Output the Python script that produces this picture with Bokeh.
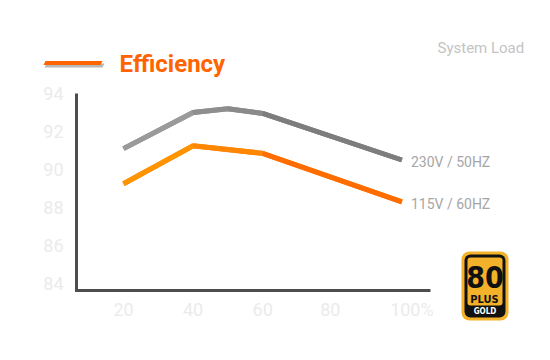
from bokeh.plotting import figure
from bokeh.models import Range1d, ColumnDataSource
from bokeh.core.properties import value
from bokeh.embed import file_html
from bokeh.resources import INLINE

# ---- data ----
load_230 = [20, 40, 50, 60, 100]
eff_230 = [91.1, 93.0, 93.2, 92.95, 90.5]
load_115 = [20, 40, 60, 100]
eff_115 = [89.25, 91.25, 90.85, 88.3]
x_ticks = [20, 40, 60, 80, 100]
x_tick_labels = ["20", "40", "60", "80", "100%"]
y_ticks = [84, 86, 88, 90, 92, 94]
y_tick_labels = ["84", "86", "88", "90", "92", "94"]
series_labels = ["230V / 50HZ", "115V / 60HZ"]
title_text = "Efficiency"
axis_title = "System Load"

# ---- layout calibration (page pixel -> data) ----
PX20, SX = 123.0, 3.48     # page x of load=20, px per unit
PY84, SY = 283.0, 19.0     # page y of eff=84, px per unit
OX, OY = 0, 0              # page offset of the canvas
def px(X):
    return 20 + (X - PX20) / SX
def py(Y):
    return 84 + (PY84 - Y) / SY

W, H = 530, 340
p = figure(width=W, height=H, output_backend="svg", toolbar_location=None,
           x_range=Range1d(px(OX), px(OX + W)), y_range=Range1d(py(OY + H), py(OY)),
           x_axis_location=None, y_axis_location=None,
           min_border=0, min_border_left=0, min_border_right=0,
           min_border_top=0, min_border_bottom=0)
p.outline_line_color = None
p.xgrid.visible = False
p.ygrid.visible = False
p.background_fill_color = "white"
p.border_fill_color = "white"

# ---- axes (drawn on the chart's scales) ----
x_ax_end = px(430)
y_ax_bottom = py(290)
p.line([px(76), px(76), x_ax_end], [max(y_ticks), y_ax_bottom, y_ax_bottom],
       line_color="#4d4d4d", line_width=3, line_join="miter")

p.text(x=[px(63)] * len(y_ticks), y=y_ticks, text=y_tick_labels,
       text_align="right", text_baseline="middle",
       text_font=value("Roboto"), text_font_size="18px", text_color="#ebebeb")

xs = ColumnDataSource(dict(x=x_ticks, y=[py(309)] * len(x_ticks), text=x_tick_labels,
                           xo=[0, 0, 0, -2, 10]))
p.text(x="x", y="y", text="text", x_offset="xo", source=xs,
       text_align="center", text_baseline="middle",
       text_font=value("Roboto"), text_font_size="18px", text_color="#ebebeb")

# ---- series lines (gradient approximated per segment) ----
def grad_line(xv, yv, base, seg_colors):
    p.line(xv, yv, line_color=base, line_width=5, line_join="miter")
    p.segment(x0=xv[:-1], y0=yv[:-1], x1=xv[1:], y1=yv[1:],
              line_color=seg_colors, line_width=5, line_cap="butt")

grad_line(load_230, eff_230, "#8c8c8c", ["#9a9a9a", "#8e8e8e", "#8a8a8a", "#7d7d7d"])
grad_line(load_115, eff_115, "#ff8400", ["#ff9300", "#ff8600", "#ff6c00"])

# end labels
p.text(x=[load_230[-1], load_115[-1]], y=[eff_230[-1], eff_115[-1]], text=series_labels,
       x_offset=9, y_offset=2, text_align="left", text_baseline="middle",
       text_font=value("Roboto"), text_font_style="normal", text_font_size="14px",
       text_color="#a6a6a6")

# ---- header ----
p.patch([px(46), px(104), px(102), px(44)], [py(63), py(63), py(67), py(67)],
        fill_color="#b8b8b8", line_color=None)
p.patch([px(45), px(102), px(100), px(43)], [py(60.5), py(60.5), py(64.5), py(64.5)],
        fill_color="#ff6400", line_color=None)
p.text(x=[px(119)], y=[py(63)], text=[title_text], text_align="left", text_baseline="middle",
       text_font=value("Roboto"), text_font_style="bold", text_font_size="24px",
       text_color="#ff6400")
p.text(x=[px(437)], y=[py(47)], text=[axis_title], text_align="left", text_baseline="middle",
       text_font=value("Roboto"), text_font_size="15px", text_color="#c4c4c4")

# ---- 80 PLUS GOLD badge ----
p.quad(left=[px(461)], right=[px(508)], top=[py(251)], bottom=[py(320)],
       fill_color="#f3b229", line_color=None, border_radius=8)
p.quad(left=[px(464)], right=[px(505)], top=[py(254)], bottom=[py(317)],
       fill_color="#111111", line_color=None, border_radius=6)
p.quad(left=[px(467)], right=[px(502)], top=[py(257)], bottom=[py(305)],
       fill_color="#f3b229", line_color=None, border_radius=3)
narrow = value("'DejaVu Sans Condensed', Roboto, sans-serif")
p.text(x=[px(484.5)], y=[py(276)], text=["80"], text_align="center", text_baseline="middle",
       text_font=narrow, text_font_style="bold", text_font_size="30px", text_color="#111111")
p.text(x=[px(484)], y=[py(299)], text=["PLUS"], text_align="center", text_baseline="middle",
       text_font=narrow, text_font_style="bold", text_font_size="11px", text_color="#111111")
p.text(x=[px(484.5)], y=[py(311)], text=["GOLD"], text_align="center", text_baseline="middle",
       text_font=narrow, text_font_style="bold", text_font_size="8px", text_color="#ffffff")

open("out.html", "w").write(file_html(p, INLINE))
